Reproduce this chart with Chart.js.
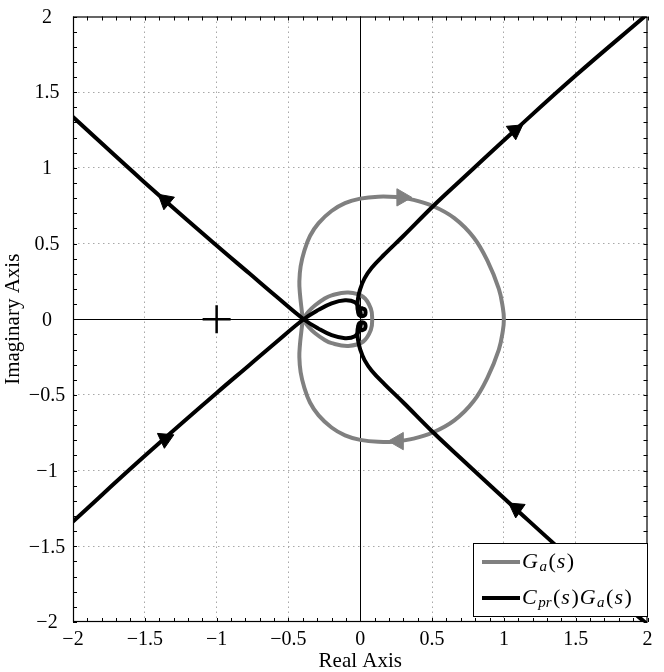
<!DOCTYPE html>
<html>
<head>
<meta charset="utf-8">
<script src="https://cdn.jsdelivr.net/npm/chart.js@4.4.1/dist/chart.umd.min.js"></script>
<style>
  html, body { margin: 0; padding: 0; background: #fff; }
  #plot { display: block; }
</style>
</head>
<body>
<canvas id="plot" width="664" height="672"></canvas>
<script>
// Axis ticks
const xTicks = [-2, -1.5, -1, -0.5, 0, 0.5, 1, 1.5, 2];
const xTickLabels = ['−2', '−1.5', '−1', '−0.5', '0', '0.5', '1', '1.5', '2'];
const yTicks = [-2, -1.5, -1, -0.5, 0, 0.5, 1, 1.5, 2];
const yTickLabels = ['−2', '−1.5', '−1', '−0.5', '0', '0.5', '1', '1.5', '2'];

// G_a(s) curve: big loop, upper arc then lower arc
const grayBigLoop = [[-0.40, 0.0], [-0.41, 0.08], [-0.42, 0.17], [-0.424, 0.25], [-0.415, 0.35], [-0.39, 0.45],
  [-0.35, 0.55], [-0.29, 0.635], [-0.2, 0.715], [-0.106, 0.767], [0.0, 0.797], [0.125, 0.81], [0.25, 0.807],
  [0.355, 0.792], [0.505, 0.748], [0.655, 0.668], [0.79, 0.54], [0.886, 0.385], [0.965, 0.2], [0.993, 0.075],
  [1.0, 0.0], [0.993, -0.075], [0.965, -0.2], [0.886, -0.385], [0.79, -0.54], [0.655, -0.668], [0.505, -0.748],
  [0.355, -0.792], [0.25, -0.807], [0.125, -0.81], [0.0, -0.797], [-0.106, -0.767], [-0.2, -0.715], [-0.29, -0.635],
  [-0.35, -0.55], [-0.39, -0.45], [-0.415, -0.35], [-0.424, -0.25], [-0.42, -0.17], [-0.41, -0.08], [-0.40, 0.0]];
const graySmallLoop = [[-0.40, 0.0], [-0.36, 0.05], [-0.314, 0.092], [-0.25, 0.135], [-0.199, 0.158], [-0.083, 0.176],
  [0.021, 0.147], [0.074, 0.07], [0.083, 0.0], [0.074, -0.07], [0.021, -0.147], [-0.083, -0.176],
  [-0.199, -0.158], [-0.25, -0.135], [-0.314, -0.092], [-0.36, -0.05], [-0.40, 0.0]];

// C_pr(s)G_a(s) curve
const blackUpperRight = [[1.98, 2.0], [1.5, 1.61], [1.077, 1.248], [0.70, 0.918], [0.505, 0.745], [0.30, 0.55],
  [0.17, 0.43], [0.08, 0.34], [0.03, 0.27], [0.0, 0.20], [-0.015, 0.14], [-0.02, 0.09], [-0.015, 0.05], [0.0, 0.025]];
const blackLowerRight = [[1.98, -2.0], [1.5, -1.61], [1.077, -1.248], [0.70, -0.918], [0.505, -0.745], [0.30, -0.55],
  [0.17, -0.43], [0.08, -0.34], [0.03, -0.27], [0.0, -0.20], [-0.015, -0.14], [-0.02, -0.09], [-0.015, -0.05], [0.0, -0.025]];
const blackUpperLeft = [[-2.0, 1.336], [-1.513, 0.914], [-1.0, 0.487], [-0.775, 0.305], [-0.59, 0.155], [-0.394, 0.0],
  [-0.291, -0.062], [-0.199, -0.105], [-0.106, -0.125], [-0.037, -0.112], [-0.005, -0.07], [0.005, -0.03]];
const blackLowerLeft = [[-2.0, -1.336], [-1.513, -0.914], [-1.0, -0.487], [-0.775, -0.305], [-0.59, -0.155], [-0.394, 0.0],
  [-0.291, 0.062], [-0.199, 0.105], [-0.106, 0.125], [-0.037, 0.112], [-0.005, 0.07], [0.005, 0.03]];
const blackKnotUpper = [[0.012, 0.072], [0.032, 0.064], [0.037, 0.045], [0.032, 0.027], [0.012, 0.02], [-0.008, 0.027],
  [-0.013, 0.045], [-0.008, 0.064], [0.012, 0.072]];
const blackKnotLower = [[0.012, -0.072], [0.032, -0.064], [0.037, -0.045], [0.032, -0.027], [0.012, -0.02], [-0.008, -0.027],
  [-0.013, -0.045], [-0.008, -0.064], [0.012, -0.072]];

// direction arrows and the -1 point
const grayArrows = [[0.29, 0.805], [0.265, -0.805]];
const grayArrowAngles = [90, 270];
const blackArrows = [[-1.356, 0.785], [1.077, 1.248], [-1.358, -0.79], [1.088, -1.25]];
const blackArrowAngles = [190, 175, 185, 185];
const criticalPoint = [[-1, 0]];

const legendLabels = ['G_{a}(s)', 'C_{pr}(s)G_{a}(s)'];
const legendColors = ['#808080', '#000000'];

const FONT = "'Liberation Serif', 'Times New Roman', serif";
const GRAY = '#808080';

const toXY = arr => arr.map(p => ({ x: p[0], y: p[1] }));

function curve(data, color, order) {
  return {
    data: toXY(data),
    showLine: true,
    borderColor: color,
    borderWidth: 4,
    pointRadius: 0,
    tension: 0.4,
    fill: false,
    borderCapStyle: 'round',
    borderJoinStyle: 'round',
    order: order
  };
}

function markers(data, color, style, radius, angles, order) {
  return {
    data: toXY(data),
    showLine: false,
    pointStyle: style,
    pointRadius: radius,
    pointRotation: angles,
    pointBackgroundColor: color,
    pointBorderColor: color,
    pointBorderWidth: 1,
    order: order
  };
}

// draw 'G_{a}(s)' style labels: letters italic, subscripts smaller
function drawMath(ctx, text, x, y, size) {
  let i = 0;
  while (i < text.length) {
    const ch = text[i];
    if (ch === '_' && text[i + 1] === '{') {
      const end = text.indexOf('}', i);
      const sub = text.slice(i + 2, end);
      ctx.font = `italic ${Math.round(size * 0.7)}px ${FONT}`;
      ctx.fillText(sub, x, y + size * 0.25);
      x += ctx.measureText(sub).width + 1.5;
      i = end + 1;
      continue;
    }
    const isLetter = /[A-Za-z]/.test(ch);
    ctx.font = `${isLetter ? 'italic ' : ''}${size}px ${FONT}`;
    ctx.fillText(ch, x, y);
    x += ctx.measureText(ch).width + (isLetter ? 1.5 : 1);
    i++;
  }
}

const axesPlugin = {
  id: 'axesDecor',
  beforeDatasetsDraw(chart) {
    const { ctx, chartArea: a, scales: { x, y } } = chart;
    ctx.save();
    ctx.strokeStyle = '#000';
    ctx.lineWidth = 1;
    const x0 = Math.round(x.getPixelForValue(0)) + 0.5;
    const y0 = Math.round(y.getPixelForValue(0)) + 0.5;
    ctx.beginPath();
    ctx.moveTo(x0, a.top); ctx.lineTo(x0, a.bottom);
    ctx.moveTo(a.left, y0); ctx.lineTo(a.right, y0);
    ctx.stroke();
    ctx.restore();
  },
  afterDatasetsDraw(chart) {
    const { ctx, chartArea: a, scales: { x, y } } = chart;
    ctx.save();
    ctx.strokeStyle = '#000';
    ctx.lineWidth = 1;
    // minor ticks every 0.1, inside the box
    ctx.beginPath();
    for (let i = -20; i <= 20; i++) {
      const px = Math.round(x.getPixelForValue(i / 10)) + 0.5;
      const py = Math.round(y.getPixelForValue(i / 10)) + 0.5;
      ctx.moveTo(px, a.bottom); ctx.lineTo(px, a.bottom - 4);
      ctx.moveTo(px, a.top); ctx.lineTo(px, a.top + 4);
      ctx.moveTo(a.left, py); ctx.lineTo(a.left + 4, py);
      ctx.moveTo(a.right, py); ctx.lineTo(a.right - 4, py);
    }
    ctx.stroke();
    ctx.lineWidth = 1.2;
    ctx.strokeRect(a.left + 0.5, a.top + 0.5, a.right - a.left - 1, a.bottom - a.top - 1);

    // y tick labels
    ctx.fillStyle = '#000';
    ctx.font = `20px ${FONT}`;
    ctx.textAlign = 'center';
    ctx.textBaseline = 'middle';
    yTicks.forEach((v, i) => {
      ctx.fillText(yTickLabels[i], 47, y.getPixelForValue(v) + 1);
    });
    ctx.restore();
  },
  afterDraw(chart) {
    const { ctx } = chart;
    const box = { left: 473, top: 543, right: 647, bottom: 616 };
    ctx.save();
    ctx.fillStyle = '#fff';
    ctx.fillRect(box.left, box.top, box.right - box.left, box.bottom - box.top);
    ctx.strokeStyle = '#000';
    ctx.lineWidth = 1;
    ctx.strokeRect(box.left + 0.5, box.top + 0.5, box.right - box.left, box.bottom - box.top);
    const rows = [562, 598];
    legendLabels.forEach((label, i) => {
      ctx.strokeStyle = legendColors[i];
      ctx.lineWidth = 4;
      ctx.beginPath();
      ctx.moveTo(482, rows[i]);
      ctx.lineTo(520, rows[i]);
      ctx.stroke();
      ctx.fillStyle = '#000';
      ctx.textBaseline = 'middle';
      ctx.textAlign = 'left';
      drawMath(ctx, label, 522, rows[i], 22);
    });
    ctx.restore();
  }
};

const gridColor = c => {
  const v = c.tick ? c.tick.value : null;
  return (v === 0 || v === 2 || v === -2) ? 'rgba(0,0,0,0)' : '#a8a8a8';
};

new Chart(document.getElementById('plot'), {
  type: 'scatter',
  data: {
    datasets: [
      curve(grayBigLoop, GRAY, 5),
      curve(graySmallLoop, GRAY, 5),
      curve(blackUpperRight, '#000', 4),
      curve(blackLowerRight, '#000', 4),
      curve(blackUpperLeft, '#000', 4),
      curve(blackLowerLeft, '#000', 4),
      curve(blackKnotUpper, '#000', 4),
      curve(blackKnotLower, '#000', 4),
      markers(grayArrows, GRAY, 'triangle', 10, grayArrowAngles, 2),
      markers(blackArrows, '#000', 'triangle', 9.5, blackArrowAngles, 1),
      Object.assign(markers(criticalPoint, '#000', 'cross', 14, 0, 1), { pointBorderWidth: 2.5 })
    ]
  },
  options: {
    responsive: false,
    animation: false,
    devicePixelRatio: 1,
    events: [],
    layout: { padding: { top: 15, right: 13, left: 0, bottom: 0 } },
    plugins: {
      legend: { display: false },
      tooltip: { enabled: false }
    },
    scales: {
      x: {
        type: 'linear',
        min: -2,
        max: 2,
        afterBuildTicks: s => { s.ticks = xTicks.map(v => ({ value: v })); },
        afterFit: s => { s.height = 50; },
        ticks: {
          callback: (v, i) => xTickLabels[i],
          font: { family: FONT, size: 20 },
          color: '#000',
          padding: 6,
          maxRotation: 0,
          autoSkip: false
        },
        grid: { color: gridColor, lineWidth: 1, drawTicks: false },
        border: { display: false, dash: [1.5, 3.5] },
        title: {
          display: true,
          text: 'Real Axis',
          color: '#000',
          font: { family: FONT, size: 21, lineHeight: 1 },
          padding: { top: 0, bottom: 0 }
        }
      },
      y: {
        type: 'linear',
        min: -2,
        max: 2,
        afterBuildTicks: s => { s.ticks = yTicks.map(v => ({ value: v })); },
        afterFit: s => { s.width = 73; },
        ticks: { display: false },
        grid: { color: gridColor, lineWidth: 1, drawTicks: false },
        border: { display: false, dash: [1.5, 3.5] },
        title: {
          display: true,
          text: 'Imaginary Axis',
          color: '#000',
          font: { family: FONT, size: 21, lineHeight: 1 },
          padding: { top: 3, bottom: 0 }
        }
      }
    }
  },
  plugins: [axesPlugin]
});
</script>
</body>
</html>
